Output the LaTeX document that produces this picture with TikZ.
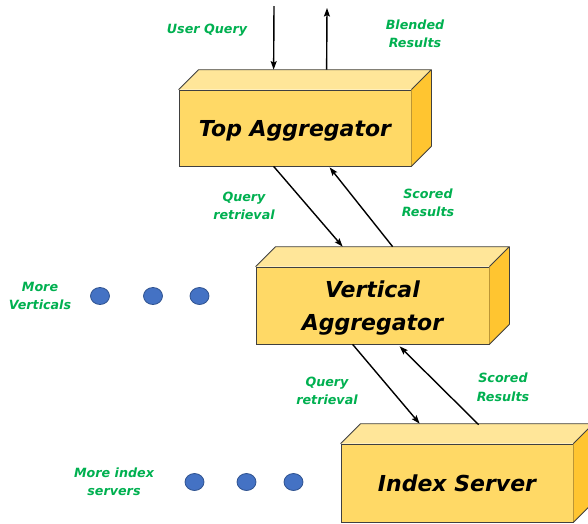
\documentclass[tikz,border=0pt]{standalone}
\usepackage{fontspec}
\setmainfont{DejaVu Sans}
\usetikzlibrary{arrows.meta,calc,shapes.geometric}

\definecolor{lblgreen}{HTML}{00B050}
\definecolor{facefront}{HTML}{FFD966}
\definecolor{facetop}{HTML}{FFE699}
\definecolor{faceside}{HTML}{FFC530}
\definecolor{boxedge}{HTML}{404040}
\definecolor{dotfill}{HTML}{4472C4}
\definecolor{dotedge}{HTML}{2F528F}

% A cuboid: named front face plus top and right faces drawn behind it.
% #1 name, #2 centre, #3 width, #4 height, #5 depth, #6 text
\newcommand\cuboidbox[6]{%
  \node[frontface, minimum width=#3pt, minimum height=#4pt] (#1) at (#2) {#6};
  \fill[facetop] (#1.north west) -- ++(#5,-#5) -- ($(#1.north east)+(#5,-#5)$) -- (#1.north east) -- cycle;
  \fill[faceside] (#1.north east) -- ++(#5,-#5) -- ($(#1.south east)+(#5,-#5)$) -- (#1.south east) -- cycle;
  \draw[boxedge, line width=0.75pt, line join=round]
    (#1.north west) -- ++(#5,-#5) -- ($(#1.north east)+(#5,-#5)$) -- (#1.north east)
    ($(#1.north east)+(#5,-#5)$) -- ($(#1.south east)+(#5,-#5)$) -- (#1.south east);
}

\tikzset{
  frontface/.style={draw=boxedge, line width=0.75pt, fill=facefront, align=center,
    inner sep=0pt, text depth=0pt, font=\bfseries\itshape\fontsize{22}{33}\selectfont},
  lbl/.style={text=lblgreen, align=center, inner sep=0pt,
    font=\bfseries\itshape\fontsize{12.7}{18.5}\selectfont},
  flow/.style={line width=1.4pt, -{Stealth[length=8.5pt,width=6pt,inset=1.5pt]}},
  dot/.style={ellipse, draw=dotedge, line width=0.8pt, fill=dotfill,
    minimum width=19pt, minimum height=17pt, inner sep=0pt},
}

\begin{document}
\begin{tikzpicture}[x=1pt,y=-1pt]
\useasboundingbox (0,0) rectangle (588,523);
\clip (0,0) rectangle (588,523);

% the three tiers
\cuboidbox{top}{295,128}{232}{76}{20}{Top Aggregator}
\cuboidbox{vert}{372.5,305.5}{233}{77}{20}{Vertical\\Aggregator}
\cuboidbox{idx}{457,483}{232}{78}{20}{Index Server}

% entry and exit of the top tier
\coordinate (uqin) at (274,6);
\coordinate (brout) at (327,8);
\draw[flow] (uqin) -- ($(top.north west)+(95,-20)$);
\draw[flow] ($(top.north west)+(148,-20)$) -- (brout);

% top <-> vertical
\draw[flow] ($(top.south west)+(95,0)$) -- ($(vert.north west)+(87,-20)$);
\draw[flow] ($(vert.north west)+(137,-20)$) -- ($(top.south west)+(151,1)$);

% vertical <-> index server
\draw[flow] ($(vert.south west)+(97,0)$) -- ($(idx.north west)+(79,-20)$);
\draw[flow] ($(idx.north west)+(138,-19)$) -- ($(vert.south west)+(144,2)$);

% labels
\node[lbl] (luq) at (207,30) {User Query};
\node[lbl] (lbr) at (415,34) {Blended\\Results};
\node[lbl] (lqr1) at (244,206) {Query\\retrieval};
\node[lbl] (lsr1) at (428,203) {Scored\\Results};
\node[lbl] (lmv) at (40,296) {More\\Verticals};
\node[lbl] (lqr2) at (327,391) {Query\\retrieval};
\node[lbl] (lsr2) at (503,387.5) {Scored\\Results};
\node[lbl] (lmi) at (114,482) {More index\\servers};

% ellipsis dots
\node[dot] (d1) at (100,296) {};
\node[dot] (d2) at (153,296) {};
\node[dot] (d3) at (199.5,296) {};
\node[dot] (d4) at (194.5,482) {};
\node[dot] (d5) at (246.5,482) {};
\node[dot] (d6) at (293.5,482) {};
\end{tikzpicture}
\end{document}
